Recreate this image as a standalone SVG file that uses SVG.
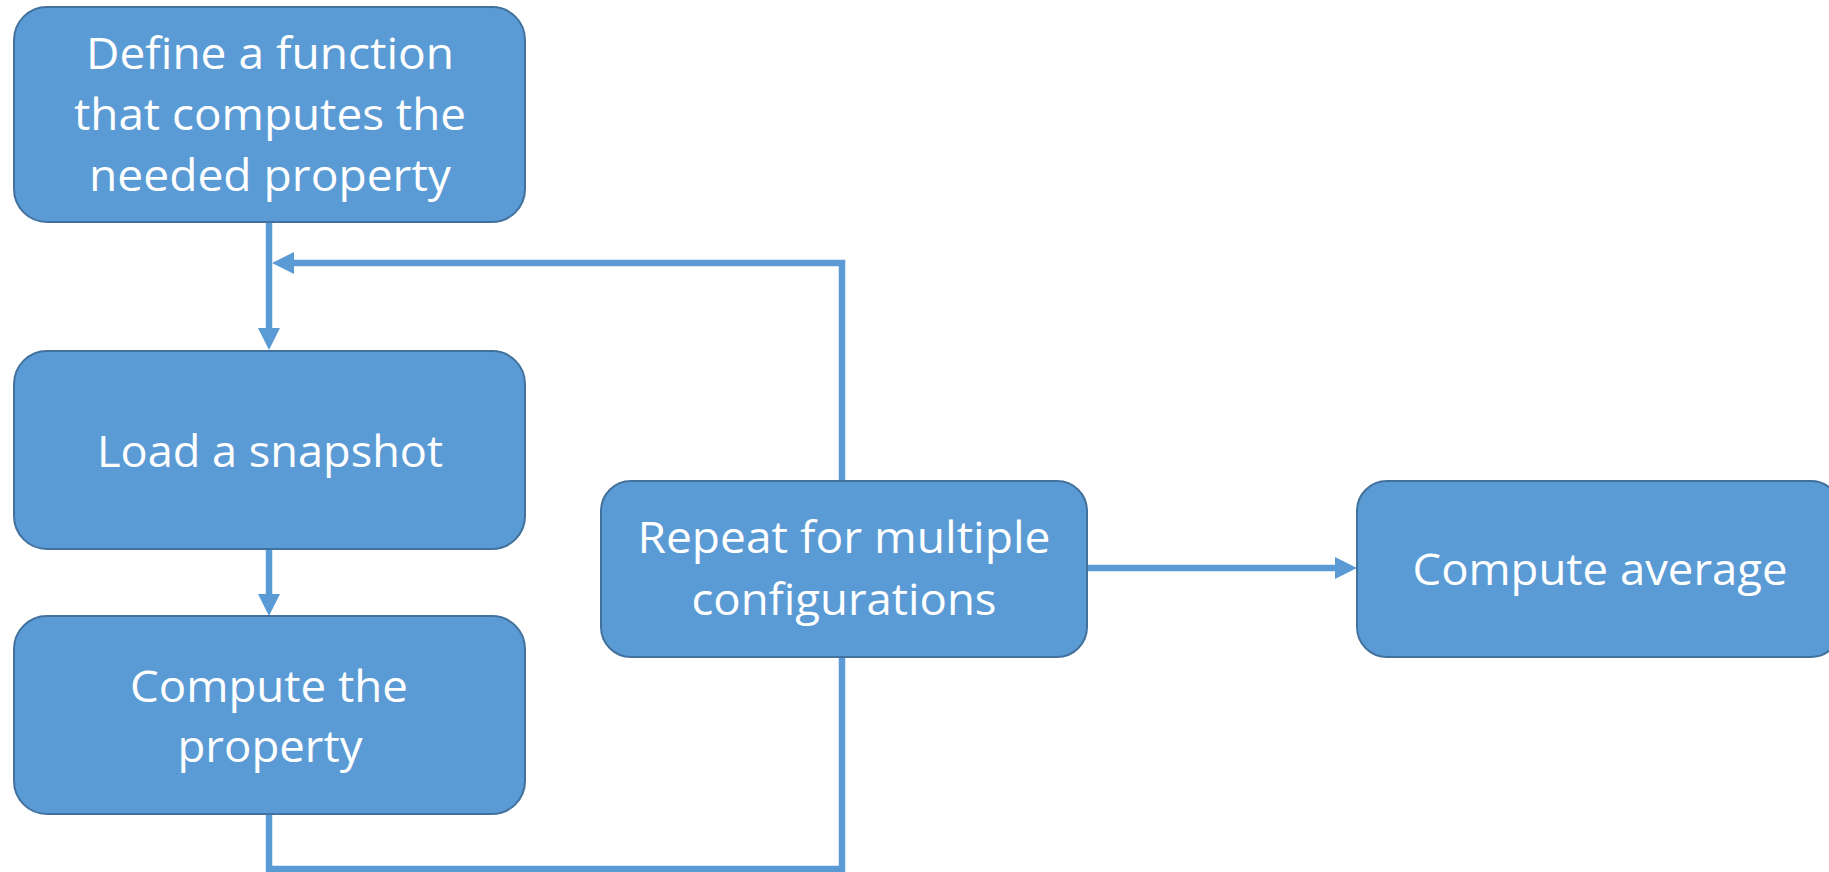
<svg xmlns="http://www.w3.org/2000/svg" width="1829" height="872" viewBox="0 0 1829 872">
<defs>
<style>
.box{fill:#5B9BD5;stroke:#41719C;stroke-width:2}
.lbl{font-family:"Open Sans","Liberation Sans",sans-serif;font-size:44px;fill:#FFFFFF;text-anchor:middle}
.conn{fill:none;stroke:#5B9BD5;stroke-width:6.5}
</style>
<marker id="arr" viewBox="0 0 22 22" refX="2" refY="11" markerWidth="22" markerHeight="22" markerUnits="userSpaceOnUse" orient="auto">
<path d="M0,0 L22,11 L0,22 z" fill="#5B9BD5"/>
</marker>
</defs>
<rect width="1829" height="872" fill="#FFFFFF"/>
<g id="connectors">
<path class="conn" d="M269,222 V330" marker-end="url(#arr)"/>
<path class="conn" d="M842,481 V263 H292" marker-end="url(#arr)"/>
<path class="conn" d="M269,549 V596" marker-end="url(#arr)"/>
<path class="conn" d="M269,814 V869 H842 V657"/>
<path class="conn" d="M1087,568 H1337" marker-end="url(#arr)"/>
</g>
<g id="node-define">
<rect class="box" x="14" y="7" width="511" height="215" rx="33" ry="33"/>
<text class="lbl" x="270" y="69" textLength="368" lengthAdjust="spacingAndGlyphs">Define a function</text>
<text class="lbl" x="270" y="130" textLength="392" lengthAdjust="spacingAndGlyphs">that computes the</text>
<text class="lbl" x="270" y="191" textLength="362" lengthAdjust="spacingAndGlyphs">needed property</text>
</g>
<g id="node-load">
<rect class="box" x="14" y="351" width="511" height="198" rx="33" ry="33"/>
<text class="lbl" x="270" y="467" textLength="346" lengthAdjust="spacingAndGlyphs">Load a snapshot</text>
</g>
<g id="node-compute">
<rect class="box" x="14" y="616" width="511" height="198" rx="33" ry="33"/>
<text class="lbl" x="269" y="702" textLength="278" lengthAdjust="spacingAndGlyphs">Compute the</text>
<text class="lbl" x="270" y="762" textLength="185" lengthAdjust="spacingAndGlyphs">property</text>
</g>
<g id="node-repeat">
<rect class="box" x="601" y="481" width="486" height="176" rx="30" ry="30"/>
<text class="lbl" x="844" y="553" textLength="413" lengthAdjust="spacingAndGlyphs">Repeat for multiple</text>
<text class="lbl" x="844" y="615" textLength="305" lengthAdjust="spacingAndGlyphs">configurations</text>
</g>
<g id="node-average">
<rect class="box" x="1357" y="481" width="484" height="176" rx="30" ry="30"/>
<text class="lbl" x="1600" y="585" textLength="375" lengthAdjust="spacingAndGlyphs">Compute average</text>
</g>
</svg>
